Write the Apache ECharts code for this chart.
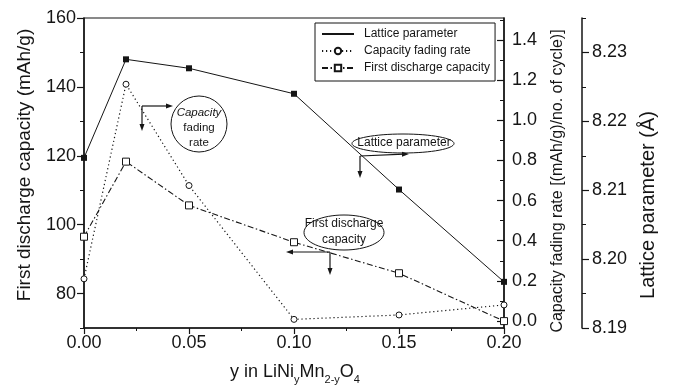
<!DOCTYPE html>
<html>
<head>
<meta charset="utf-8">
<script src="https://cdn.jsdelivr.net/npm/echarts@6/dist/echarts.min.js"></script>
<style>
  html, body { margin: 0; padding: 0; background: #fff; }
  #chart { width: 674px; height: 390px; }
</style>
</head>
<body>
<div id="chart"></div>
<script>
// y in LiNi(y)Mn(2-y)O4
const yContent = [0, 0.02, 0.05, 0.10, 0.15, 0.20];
const latticeParam = [8.2147, 8.2290, 8.2277, 8.2240, 8.2101, 8.1967];
const fadingRate = [0.21, 1.18, 0.675, 0.008, 0.03, 0.08];
const firstDischarge = [96.5, 118.3, 105.6, 94.9, 85.9, 72.0];

const capacityTicks = [80, 100, 120, 140, 160];
const capacityMinor = [70, 90, 110, 130, 150];
const fadingTicks = [0, 0.2, 0.4, 0.6, 0.8, 1.0, 1.2, 1.4];
const fadingMinor = [0.1, 0.3, 0.5, 0.7, 0.9, 1.1, 1.3, 1.5];
const latticeTicks = [8.19, 8.20, 8.21, 8.22, 8.23];
const latticeMinor = [8.195, 8.205, 8.215, 8.225, 8.235];

const ink = '#151515';
const font = 'Liberation Sans, Arial, sans-serif';

const pairs = (vals) => yContent.map((x, i) => [x, vals[i]]);

const baseY = (min, max, pos, offset) => ({
    type: 'value',
    position: pos,
    offset: offset,
    min: min,
    max: max,
    splitLine: { show: false },
    axisLine: { show: true, onZero: false, lineStyle: { color: ink, width: 1.5 } },
});

const majorY = (min, max, pos, offset, ticks, inside, fmt) => Object.assign(baseY(min, max, pos, offset), {
    axisTick: { show: true, inside: inside, length: 7, customValues: ticks, lineStyle: { color: ink, width: 1.2 } },
    axisLabel: {
        show: true, customValues: ticks, color: ink, fontSize: 18, fontFamily: font,
        margin: pos === 'left' ? 8 : (offset ? 10 : 8), formatter: fmt
    },
});

const minorY = (min, max, pos, offset, ticks, inside) => Object.assign(baseY(min, max, pos, offset), {
    axisLine: { show: false },
    axisTick: { show: true, inside: inside, length: 4, customValues: ticks, lineStyle: { color: ink, width: 1 } },
    axisLabel: { show: false },
});

const chart = echarts.init(document.getElementById('chart'));

chart.setOption({
    backgroundColor: '#fff',
    animation: false,
    grid: {
        left: 84, top: 18, width: 420, height: 310,
        show: true, borderColor: ink, borderWidth: 1.2, backgroundColor: 'transparent'
    },
    legend: {
        left: 315, top: 23,
        orient: 'vertical',
        padding: [5, 5, 7, 6],
        itemGap: 5,
        itemWidth: 32,
        itemHeight: 8,
        borderColor: ink,
        borderWidth: 1,
        textStyle: { color: ink, fontSize: 12, fontFamily: font, padding: [0, 0, 0, 5] },
        data: [
            { name: 'Lattice parameter', itemStyle: { opacity: 0 } },
            'Capacity fading rate',
            'First discharge capacity'
        ]
    },
    xAxis: {
        type: 'value',
        min: 0, max: 0.2, interval: 0.05,
        splitLine: { show: false },
        axisLine: { onZero: false, lineStyle: { color: ink, width: 1.5 } },
        axisTick: { length: 6, lineStyle: { color: ink, width: 1.2 } },
        minorTick: { show: true, splitNumber: 2, length: 3, lineStyle: { color: ink } },
        minorSplitLine: { show: false },
        axisLabel: { color: ink, fontSize: 18, fontFamily: font, margin: 6, formatter: v => v.toFixed(2) }
    },
    yAxis: [
        majorY(70, 160, 'left', 0, capacityTicks, false, v => String(v)),
        majorY(-0.035, 1.51, 'right', 0, fadingTicks, true, v => v.toFixed(1)),
        majorY(8.19, 8.235, 'right', 78, latticeTicks, false, v => v.toFixed(2)),
        minorY(70, 160, 'left', 0, capacityMinor, false),
        minorY(-0.035, 1.51, 'right', 0, fadingMinor, true),
        minorY(8.19, 8.235, 'right', 78, latticeMinor, false)
    ],
    series: [
        {
            name: 'Lattice parameter',
            type: 'line',
            yAxisIndex: 2,
            data: pairs(latticeParam),
            symbol: 'rect',
            symbolSize: 6,
            itemStyle: { color: ink },
            lineStyle: { color: ink, width: 1 }
        },
        {
            name: 'Capacity fading rate',
            type: 'line',
            yAxisIndex: 1,
            data: pairs(fadingRate),
            symbol: 'circle',
            symbolSize: 6,
            itemStyle: { color: '#fff', borderColor: ink, borderWidth: 1 },
            lineStyle: { color: ink, width: 1.2, type: [1.2, 2.8] }
        },
        {
            name: 'First discharge capacity',
            type: 'line',
            yAxisIndex: 0,
            data: pairs(firstDischarge),
            symbol: 'rect',
            symbolSize: 7,
            itemStyle: { color: '#fff', borderColor: ink, borderWidth: 1 },
            lineStyle: { color: ink, width: 1.1, type: [6, 2.5, 1.5, 2.5] }
        }
    ],
    graphic: [
        // axis names
        {
            type: 'text', x: 25, y: 165, rotation: Math.PI / 2,
            style: { text: 'First discharge capacity (mAh/g)', fill: ink, fontSize: 19, fontFamily: font, align: 'center', verticalAlign: 'middle' }
        },
        {
            type: 'text', x: 558, y: 181, rotation: Math.PI / 2,
            style: { text: 'Capacity fading rate [(mAh/g)/no. of cycle)]', fill: ink, fontSize: 16, fontFamily: font, align: 'center', verticalAlign: 'middle' }
        },
        {
            type: 'text', x: 648, y: 205, rotation: Math.PI / 2,
            style: { text: 'Lattice parameter (Å)', fill: ink, fontSize: 20, fontFamily: font, align: 'center', verticalAlign: 'middle' }
        },
        {
            type: 'text', x: 295, y: 372,
            style: {
                text: '{a|y in LiNi}{s|y}{a|Mn}{s|2-y}{a|O}{s|4}',
                align: 'center', verticalAlign: 'middle',
                rich: {
                    a: { fill: ink, fontSize: 18, fontFamily: font, lineHeight: 26, verticalAlign: 'middle' },
                    s: { fill: ink, fontSize: 11, fontFamily: font, lineHeight: 26, verticalAlign: 'bottom' }
                }
            }
        },
        // "Capacity fading rate" callout
        { type: 'circle', shape: { cx: 199, cy: 124, r: 28 }, style: { fill: 'none', stroke: ink, lineWidth: 1 } },
        { type: 'text', x: 199, y: 113, style: { text: 'Capacity', fill: ink, fontSize: 11.5, fontStyle: 'italic', fontFamily: font, align: 'center', verticalAlign: 'middle' } },
        { type: 'text', x: 199, y: 128, style: { text: 'fading', fill: ink, fontSize: 11.5, fontFamily: font, align: 'center', verticalAlign: 'middle' } },
        { type: 'text', x: 199, y: 143, style: { text: 'rate', fill: ink, fontSize: 11.5, fontFamily: font, align: 'center', verticalAlign: 'middle' } },
        { type: 'line', shape: { x1: 142, y1: 106, x2: 168, y2: 106 }, style: { stroke: ink, lineWidth: 1.2 } },
        { type: 'polygon', shape: { points: [[166, 103.5], [173, 106], [166, 108.5]] }, style: { fill: ink } },
        { type: 'line', shape: { x1: 142, y1: 106, x2: 142, y2: 126 }, style: { stroke: ink, lineWidth: 1.2 } },
        { type: 'polygon', shape: { points: [[139.5, 124], [142, 131], [144.5, 124]] }, style: { fill: ink } },
        // "Lattice parameter" callout
        { type: 'ellipse', shape: { cx: 403, cy: 143.5, rx: 51, ry: 9.5 }, style: { fill: 'none', stroke: ink, lineWidth: 1 } },
        { type: 'text', x: 404, y: 143, style: { text: 'Lattice parameter', fill: ink, fontSize: 12, fontFamily: font, align: 'center', verticalAlign: 'middle' } },
        { type: 'line', shape: { x1: 360, y1: 156, x2: 404, y2: 154.2 }, style: { stroke: ink, lineWidth: 1.2 } },
        { type: 'polygon', shape: { points: [[402, 151.7], [409, 154], [402, 156.7]] }, style: { fill: ink } },
        { type: 'line', shape: { x1: 360, y1: 156, x2: 360, y2: 173 }, style: { stroke: ink, lineWidth: 1.2 } },
        { type: 'polygon', shape: { points: [[357.5, 171], [360, 178], [362.5, 171]] }, style: { fill: ink } },
        // "First discharge capacity" callout
        { type: 'ellipse', shape: { cx: 344, cy: 232.5, rx: 40, ry: 17.5 }, style: { fill: 'none', stroke: ink, lineWidth: 1 } },
        { type: 'text', x: 344, y: 224, style: { text: 'First discharge', fill: ink, fontSize: 12, fontFamily: font, align: 'center', verticalAlign: 'middle' } },
        { type: 'text', x: 344, y: 240, style: { text: 'capacity', fill: ink, fontSize: 12, fontFamily: font, align: 'center', verticalAlign: 'middle' } },
        { type: 'line', shape: { x1: 330, y1: 252, x2: 291, y2: 252 }, style: { stroke: ink, lineWidth: 1.2 } },
        { type: 'polygon', shape: { points: [[293, 249.5], [286, 252], [293, 254.5]] }, style: { fill: ink } },
        { type: 'line', shape: { x1: 330, y1: 252, x2: 330, y2: 270 }, style: { stroke: ink, lineWidth: 1.2 } },
        { type: 'polygon', shape: { points: [[327.5, 268], [330, 275], [332.5, 268]] }, style: { fill: ink } }
    ]
});
</script>
</body>
</html>
